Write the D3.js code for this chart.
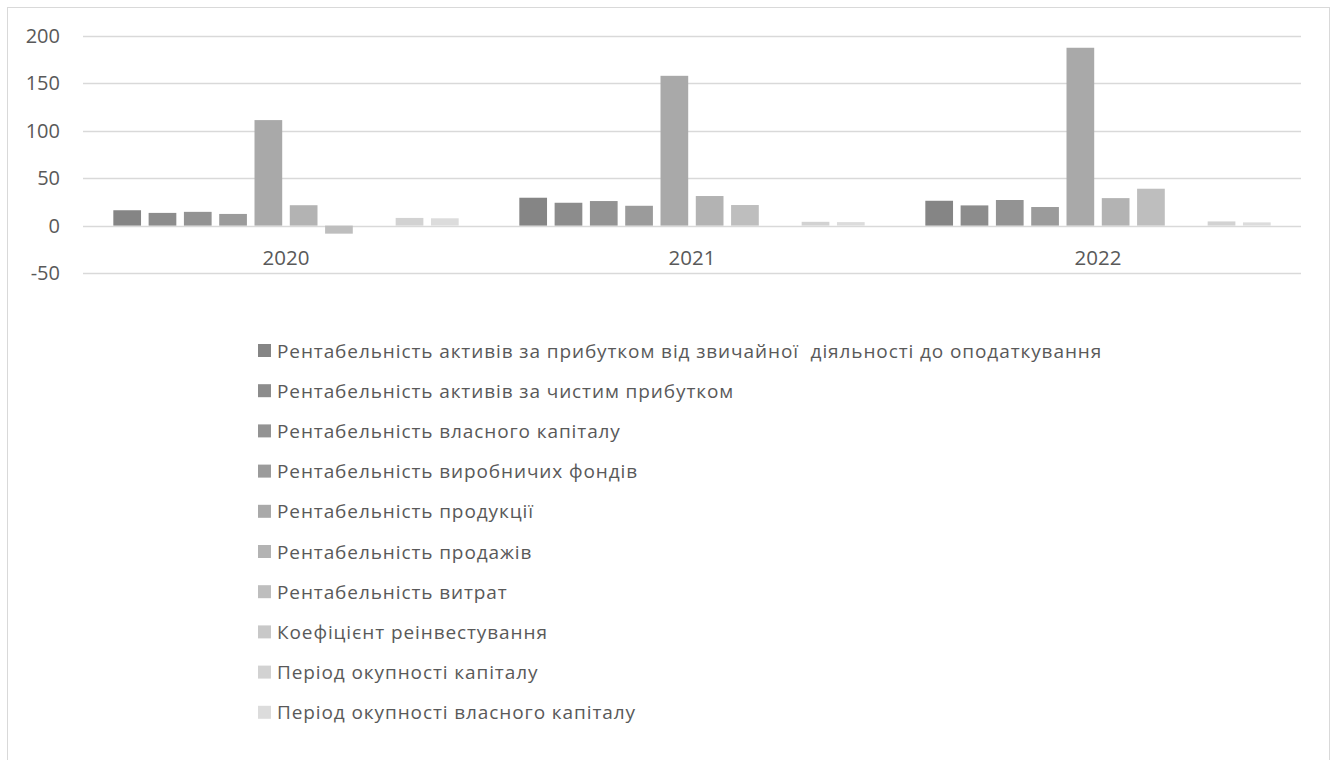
<!DOCTYPE html>
<html>
<head>
<meta charset="utf-8">
<script src="https://cdn.jsdelivr.net/npm/d3@7"></script>
<style>
    body { margin: 0; background: #ffffff; }
    text { font-family: "Open Sans", "DejaVu Sans", sans-serif; fill: #595959; }
</style>
</head>
<body>
<script>
// Years on the x axis
var years = ["2020", "2021", "2022"];

// Series names (legend order)
var seriesNames = [
    "Рентабельність активів за прибутком від звичайної  діяльності до оподаткування",
    "Рентабельність активів за чистим прибутком",
    "Рентабельність власного капіталу",
    "Рентабельність виробничих фондів",
    "Рентабельність продукції",
    "Рентабельність продажів",
    "Рентабельність витрат",
    "Коефіцієнт реінвестування",
    "Період окупності капіталу",
    "Період окупності власного капіталу"
];

// Values per series, one per year
var values2020 = [16.2, 13.4, 14.5, 12.3, 111.3, 21.5, -8.5, 0, 8.1, 7.7];
var values2021 = [29.4, 24.1, 25.9, 20.9, 158, 31.2, 21.7, 0, 4.0, 3.7];
var values2022 = [26.2, 21.3, 27.0, 19.6, 187.6, 29.0, 38.9, 0, 4.4, 3.4];

var yTicks = [-50, 0, 50, 100, 150, 200];

var seriesColors = ["#858585", "#8c8c8c", "#939393", "#9b9b9b", "#a9a9a9",
                    "#b3b3b3", "#bebebe", "#c8c8c8", "#d2d2d2", "#dcdcdc"];

var dataByYear = [values2020, values2021, values2022];

var svgWidth = 1336;
var svgHeight = 760;

var plot = { left: 83, right: 1301, top: 36, bottom: 273 };

const svg = d3.select("body").append("svg")
    .attr("width", svgWidth)
    .attr("height", svgHeight);

// Chart border
svg.append("rect")
    .attr("x", 7.5)
    .attr("y", 7.5)
    .attr("width", 1322)
    .attr("height", 780)
    .attr("fill", "none")
    .attr("stroke", "#d9d9d9")
    .attr("stroke-width", 1);

const yScale = d3.scaleLinear()
    .domain([-50, 200])
    .range([plot.bottom, plot.top]);

const x0 = d3.scaleBand()
    .domain(years)
    .range([plot.left, plot.right])
    .padding(0);

var groupInset = x0.bandwidth() * 0.0747;
const x1 = d3.scaleBand()
    .domain(d3.range(seriesNames.length))
    .range([groupInset, x0.bandwidth() - groupInset])
    .paddingInner(0.215)
    .paddingOuter(0);

// Gridlines
svg.append("g")
    .selectAll("line")
    .data(yTicks)
    .enter()
    .append("line")
    .attr("x1", plot.left)
    .attr("x2", plot.right)
    .attr("y1", d => Math.round(yScale(d)) + 0.5)
    .attr("y2", d => Math.round(yScale(d)) + 0.5)
    .attr("stroke", "#d9d9d9")
    .attr("stroke-width", 1.3);

// Y axis labels (plain hyphen for negatives, as in the original)
const yAxis = d3.axisLeft(yScale)
    .tickValues(yTicks)
    .tickFormat(d => String(d))
    .tickSize(0)
    .tickPadding(0);
svg.append("g")
    .attr("transform", "translate(60, 0)")
    .call(yAxis)
    .call(g => g.select(".domain").remove())
    .selectAll("text")
    .style("font-size", "20px")
    .attr("fill", "#595959");

// Bars
var groups = svg.append("g")
    .selectAll("g")
    .data(years)
    .enter()
    .append("g")
    .attr("transform", d => `translate(${x0(d)}, 0)`);

groups.selectAll("rect")
    .data((d, i) => dataByYear[i].map((v, j) => ({ series: j, value: v })))
    .enter()
    .append("rect")
    .attr("x", d => x1(d.series))
    .attr("width", x1.bandwidth())
    .attr("y", d => yScale(Math.max(0, d.value)))
    .attr("height", d => Math.abs(yScale(d.value) - yScale(0)))
    .attr("fill", d => seriesColors[d.series]);

// Category labels
svg.append("g")
    .selectAll("text")
    .data(years)
    .enter()
    .append("text")
    .attr("x", d => x0(d) + x0.bandwidth() / 2)
    .attr("y", 265)
    .attr("text-anchor", "middle")
    .style("font-size", "20.5px")
    .text(d => d);

// Legend
var legend = svg.append("g")
    .selectAll("g")
    .data(seriesNames)
    .enter()
    .append("g")
    .attr("transform", (d, i) => `translate(258, ${344 + i * 40.2})`);

legend.append("rect")
    .attr("width", 13)
    .attr("height", 13)
    .attr("fill", (d, i) => seriesColors[i]);

legend.append("text")
    .attr("x", 19)
    .attr("y", 13.5)
    .style("font-size", "19px")
    .style("letter-spacing", "0.9px")
    .style("white-space", "pre")
    .attr("xml:space", "preserve")
    .text(d => d);
</script>
</body>
</html>
